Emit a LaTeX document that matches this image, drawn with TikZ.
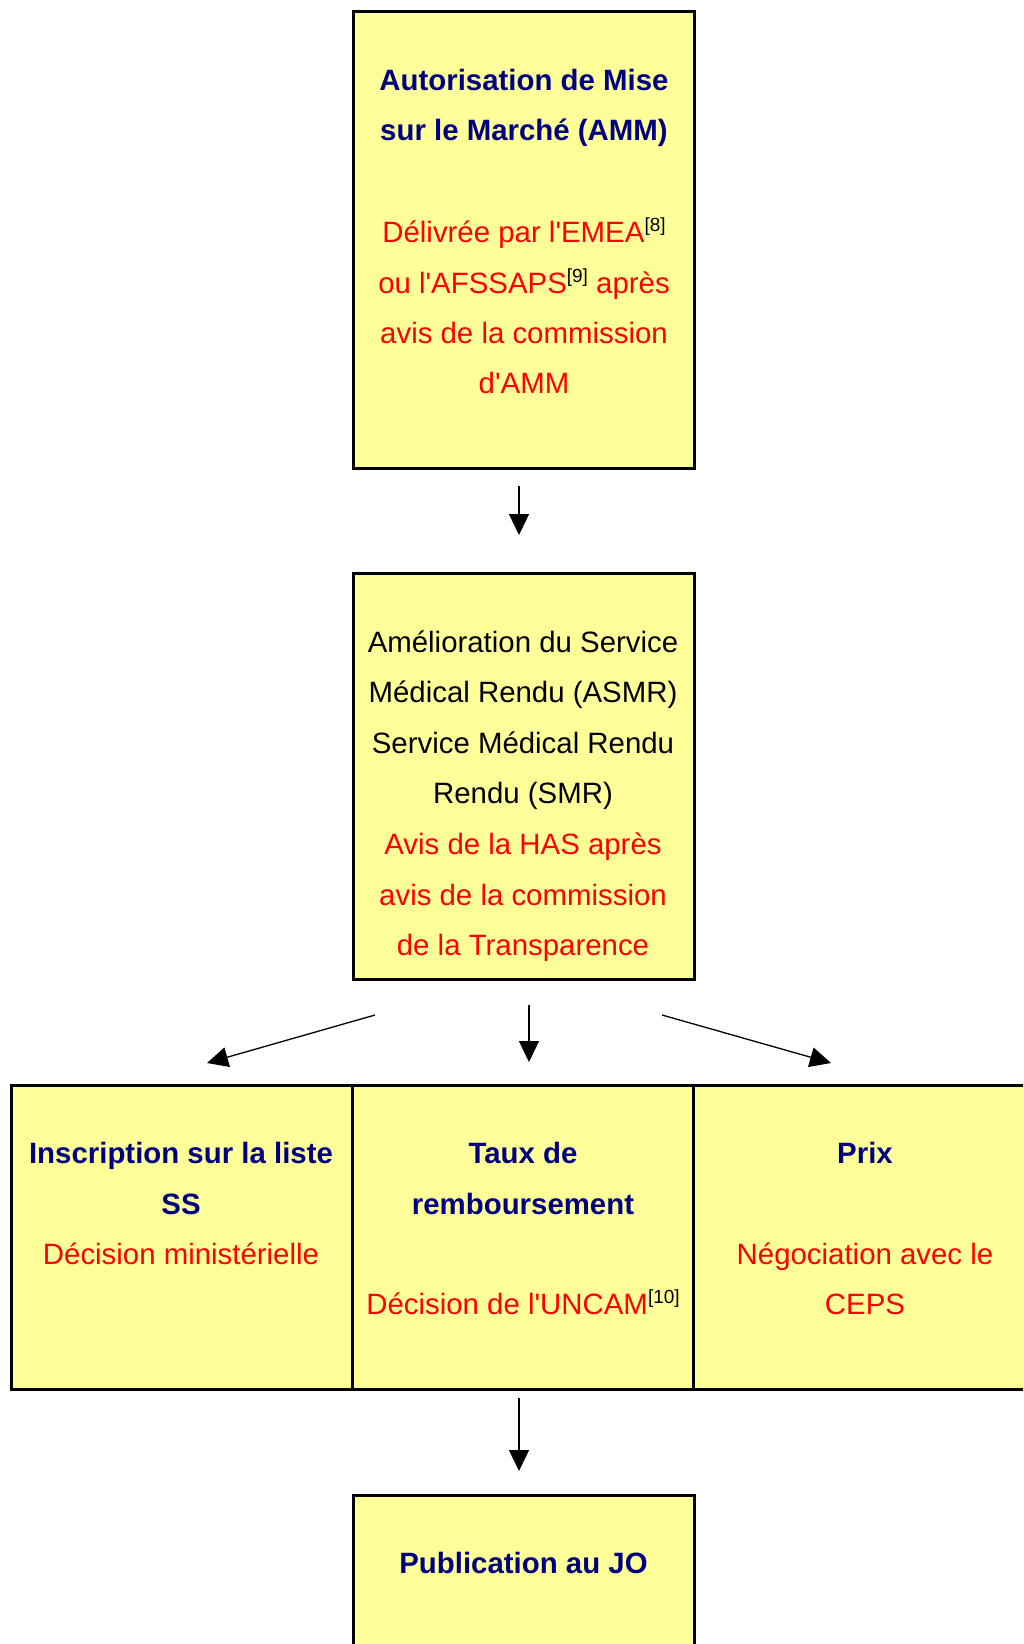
\documentclass[tikz,border=0pt]{standalone}
\usepackage{fontspec}
\setmainfont{Liberation Sans}
\usetikzlibrary{arrows.meta}
\definecolor{boxfill}{HTML}{FFFF99}
\definecolor{navy}{HTML}{000080}
\definecolor{redtxt}{HTML}{FF0000}
\newcommand{\ap}{\textquotesingle}
\newcommand{\refsup}[1]{\raisebox{11pt}{\color{black}\fontsize{19}{19}\selectfont[#1]}}
\tikzset{
  box/.style={draw=black, line width=3pt, fill=boxfill, rectangle, inner sep=0pt},
  ln/.style={anchor=base, inner sep=0pt, font=\fontsize{29.4}{35}\selectfont},
  ttl/.style={ln, text=navy, font=\fontsize{29.4}{35}\selectfont\bfseries},
  rtx/.style={ln, text=redtxt},
  btx/.style={ln, text=black},
  arr/.style={line width=1.3pt, -{Triangle[length=21pt,width=20pt]}}
}
\begin{document}
\begin{tikzpicture}[x=1pt,y=-1pt]
\clip (0,0) rectangle (1023,1644);
\fill[white] (0,0) rectangle (1023,1644);
% boxes
\node[box, minimum width=341pt, minimum height=457pt] (amm) at (523.5,240) {};
\node[box, minimum width=341pt, minimum height=406pt] (asmr) at (523.5,776) {};
\node[box, minimum width=341pt, minimum height=304pt] (liste) at (182,1237) {};
\node[box, minimum width=341pt, minimum height=304pt] (prix) at (864,1237) {};
\node[box, minimum width=341pt, minimum height=304pt] (taux) at (523,1237) {};
\node[box, minimum width=341pt, minimum height=204pt] (jo) at (523.5,1597) {};
% box 1 text
\node[ttl] (a1) at (524,90) {Autorisation de Mise};
\node[ttl] (a2) at (524,140) {sur le Marché (AMM)};
\node[rtx] (a3) at (524,242) {Délivrée par l\ap EMEA\refsup{8}};
\node[rtx] (a4) at (524,293) {ou l\ap AFSSAPS\refsup{9} après};
\node[rtx] (a5) at (524,343) {avis de la commission};
\node[rtx] (a6) at (524,393) {d\ap AMM};
% box 2 text
\node[btx] (b1) at (523,652) {Amélioration du Service};
\node[btx] (b2) at (523,702) {Médical Rendu (ASMR)};
\node[btx] (b3) at (523,753) {Service Médical Rendu};
\node[btx] (b4) at (523,803) {Rendu (SMR)};
\node[rtx] (b5) at (523,854) {Avis de la HAS après};
\node[rtx] (b6) at (523,905) {avis de la commission};
\node[rtx] (b7) at (523,955) {de la Transparence};
% left box
\node[ttl] (c1) at (181,1163) {Inscription sur la liste};
\node[ttl] (c2) at (181,1214) {SS};
\node[rtx] (c3) at (181,1264) {Décision ministérielle};
% middle box
\node[ttl] (d1) at (523,1163) {Taux de};
\node[ttl] (d2) at (523,1214) {remboursement};
\node[rtx] (d3) at (523,1314) {Décision de l\ap UNCAM\refsup{10}};
% right box
\node[ttl] (e1) at (865,1163) {Prix};
\node[rtx] (e2) at (865,1264) {Négociation avec le};
\node[rtx] (e3) at (865,1314) {CEPS};
% bottom box
\node[ttl] (f1) at (523.5,1573) {Publication au JO};
% arrow end points
\coordinate (p1s) at (519,486);  \coordinate (p1e) at (519,535);
\coordinate (p2s) at (375,1015); \coordinate (p2e) at (207,1063);
\coordinate (p3s) at (529,1005); \coordinate (p3e) at (529,1062);
\coordinate (p4s) at (662,1015); \coordinate (p4e) at (831,1063);
\coordinate (p5s) at (519,1398); \coordinate (p5e) at (519,1471);
\draw[arr] (p1s) -- (p1e);
\draw[arr] (p2s) -- (p2e);
\draw[arr] (p3s) -- (p3e);
\draw[arr] (p4s) -- (p4e);
\draw[arr] (p5s) -- (p5e);
\end{tikzpicture}
\end{document}
